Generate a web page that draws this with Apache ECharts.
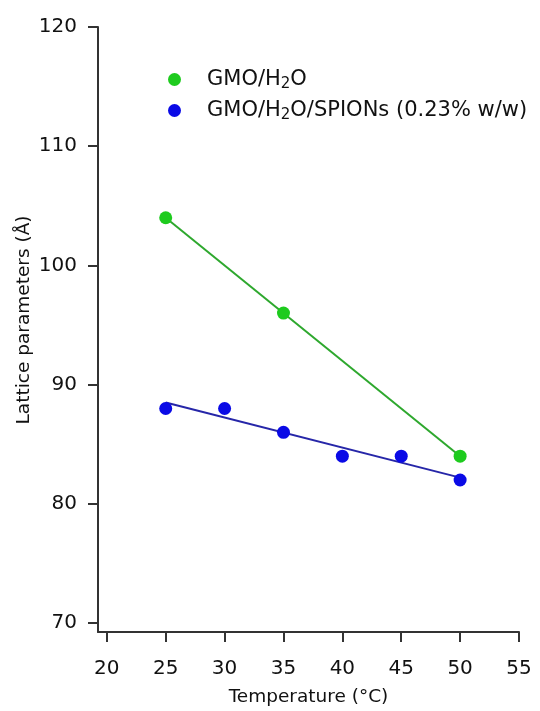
<!DOCTYPE html>
<html><head><meta charset="utf-8">
<script src="https://cdn.jsdelivr.net/npm/echarts@6/dist/echarts.min.js"></script>
<style>html,body{margin:0;padding:0;background:#fff}#c{width:540px;height:711px}</style>
</head><body><div id="c"></div>
<script>
const xTicks = [20, 25, 30, 35, 40, 45, 50, 55];
const yTicks = [70, 80, 90, 100, 110, 120];
const xTitle = 'Temperature (°C)';
const yTitle = 'Lattice parameters (Å)';
const gmoName = 'GMO/H₂O';
const gmoX = [25, 35, 50];
const gmoY = [104, 96, 84];
const gmoFitX = [25, 50];
const gmoFitY = [104, 84];
const spionName = 'GMO/H₂O/SPIONs (0.23% w/w)';
const spionX = [25, 30, 35, 40, 45, 50];
const spionY = [88, 88, 86, 84, 84, 82];
const spionFitX = [25, 50];
const spionFitY = [88.5, 82.2];

const zip = (a, b) => a.map((v, i) => [v, b[i]]);
const chart = echarts.init(document.getElementById('c'), null, {renderer: 'canvas'});
const axisCol = '#333';
const font = 'DejaVu Sans';
chart.setOption({
  animation: false,
  backgroundColor: '#fff',
  grid: {left: 98, right: 21, top: 27, bottom: 79, containLabel: false, outerBoundsMode: 'none'},
  graphic: [{
    type: 'text', x: 24, y: 320, rotation: Math.PI / 2,
    style: {text: yTitle, fontFamily: font, fontSize: 18.5, fill: '#111', align: 'center', verticalAlign: 'middle'}
  }],
  legend: {
    left: 163, top: 62, orient: 'vertical', itemGap: 6,
    itemWidth: 13, itemHeight: 13, icon: 'circle',
    data: [gmoName, spionName],
    textStyle: {fontFamily: font, fontSize: 21, color: '#111', padding: [0,0,0,21],
      rich: {a: {fontFamily: font, fontSize: 21, color: '#111', lineHeight: 26},
             s: {fontFamily: font, fontSize: 15, color: '#111', lineHeight: 26, padding: [10, 0, 0, 0]}}},
    formatter: n => n.split('₂').map(p => '{a|' + p + '}').join('{s|2}')
  },
  xAxis: {
    type: 'value', min: 19.25, max: 55,
    name: xTitle, nameLocation: 'middle', nameGap: 56,
    nameTextStyle: {fontFamily: font, fontSize: 18.5, color: '#111'},
    axisLine: {show: true, onZero: false, lineStyle: {color: axisCol, width: 2}},
    axisTick: {show: true, length: 10, lineStyle: {color: axisCol, width: 2}, customValues: xTicks},
    axisLabel: {fontFamily: font, fontSize: 20, color: '#111', margin: 27, customValues: xTicks},
    splitLine: {show: false}
  },
  yAxis: {
    type: 'value', min: 69.25, max: 120,
    axisLine: {show: true, onZero: false, lineStyle: {color: axisCol, width: 2}},
    axisTick: {show: true, length: 10, lineStyle: {color: axisCol, width: 2}, customValues: yTicks},
    axisLabel: {fontFamily: font, fontSize: 20, color: '#111', margin: 21, customValues: yTicks},
    splitLine: {show: false}
  },
  series: [
    {name: gmoName + ' fit', type: 'line', data: zip(gmoFitX, gmoFitY), symbol: 'none',
     lineStyle: {color: '#2ea82e', width: 2}, silent: true, z: 1},
    {name: spionName + ' fit', type: 'line', data: zip(spionFitX, spionFitY), symbol: 'none',
     lineStyle: {color: '#2626a8', width: 2}, silent: true, z: 1},
    {name: gmoName, type: 'scatter', data: zip(gmoX, gmoY), symbolSize: 13,
     itemStyle: {color: '#1ecb1e', opacity: 1}, z: 3},
    {name: spionName, type: 'scatter', data: zip(spionX, spionY), symbolSize: 13,
     itemStyle: {color: '#0a0ae6', opacity: 1}, z: 3}
  ]
});
</script></body></html>
